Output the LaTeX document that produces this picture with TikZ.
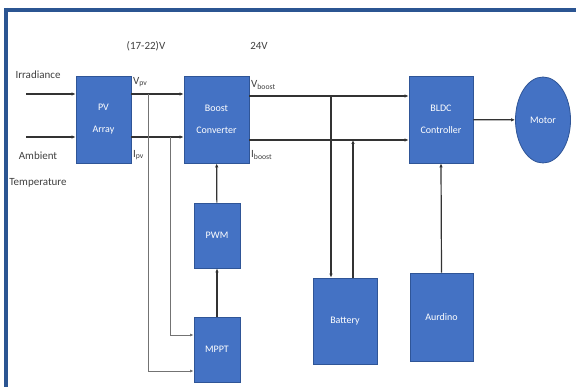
\documentclass[tikz,border=0pt]{standalone}
\usepackage{fontspec}
\setmainfont{Carlito}
\usetikzlibrary{shapes.geometric,arrows.meta}

\definecolor{framblue}{HTML}{2B5592}
\definecolor{boxblue}{HTML}{4472C4}
\definecolor{boxedge}{HTML}{2F5597}
\definecolor{wiregray}{HTML}{333333}

\tikzset{
    block/.style={draw=boxedge, fill=boxblue, thick, text=white, align=center,
        font=\fontsize{10}{22}\selectfont, inner sep=0pt},
    lbl/.style={text=black!75, align=center, font=\fontsize{11}{26}\selectfont, inner sep=0pt},
    wire/.style={wiregray, line width=1.2pt, -{Latex[length=4pt,width=3.5pt]}},
    tap/.style={black!55, line width=0.7pt, -{Latex[length=3.5pt,width=3pt]}}
}

\begin{document}
\begin{tikzpicture}[x=1pt, y=-1pt]
            \useasboundingbox (0,0) rectangle (576,387);
            \fill[white] (0,0) rectangle (576,387);
            \draw[framblue, line width=4pt] (4,10) -- (576,10);
            \draw[framblue, line width=4pt] (6,8) -- (6,387);

            \node[block, minimum width=55, minimum height=87] (pv) at (103.5,119.5) {PV\\Array};
            \node[block, minimum width=65, minimum height=87] (boost) at (216.5,119.5) {Boost\\Converter};
            \node[block, minimum width=64, minimum height=87] (bldc) at (441,119.5) {BLDC\\Controller};
            \node[block, ellipse, minimum width=55, minimum height=86] (motor) at (543,120) {Motor};
            \node[block, minimum width=46, minimum height=65] (pwm) at (217,235.5) {PWM};
            \node[block, minimum width=46, minimum height=65] (mppt) at (217,349.5) {MPPT};
            \node[block, minimum width=64, minimum height=86] (battery) at (345,321) {Battery};
            \node[block, minimum width=63, minimum height=88] (arduino) at (441.5,317) {Aurdino};

            \node[lbl] (irrtext) at (38,75) {Irradiance};
            \node[lbl] (ambtext) at (38,170) {Ambient\\Temperature};
            \node[lbl] (vpvrange) at (146,46) {(17-22)V};
            \node[lbl] (vboostval) at (259,46) {24V};
            \node[lbl, anchor=west] (vpvtext) at (133,82) {V\textsubscript{pv}};
            \node[lbl, anchor=west] (ipvtext) at (133,155) {I\textsubscript{pv}};
            \node[lbl, anchor=west] (vbtext) at (251,85) {V\textsubscript{boost}};
            \node[lbl, anchor=west] (ibtext) at (251,155) {I\textsubscript{boost}};

            \coordinate (irr) at (26,94);
            \coordinate (amb) at (26,137);
            \coordinate (vpv) at (pv.east |- irr);
            \coordinate (ipv) at (pv.east |- amb);
            \coordinate (vb) at (boost.east |- 0,96);
            \coordinate (ib) at (boost.east |- 0,140);
            \coordinate (vtap) at (148,94);
            \coordinate (itap) at (170,137);
            \coordinate (btapin) at (331,96);
            \coordinate (btapout) at (353,140);

            \draw[wire] (irr) -- (irr -| pv.west);
            \draw[wire] (amb) -- (amb -| pv.west);
            \draw[wire] (vpv) -- (vpv -| boost.west);
            \draw[wire] (ipv) -- (ipv -| boost.west);
            \draw[wire] (vb) -- (vb -| bldc.west);
            \draw[wire] (ib) -- (ib -| bldc.west);
            \draw[wire] (bldc) -- (motor);

            \draw[tap] (vtap) |- (mppt.west |- 0,371);
            \draw[tap] (itap) |- (mppt.west |- 0,335);

            \draw[wire] (mppt) -- (pwm);
            \draw[wire] (pwm) -- (boost);

            \draw[wire] (btapin) -- (btapin |- battery.north);
            \draw[wire] (btapout |- battery.north) -- (btapout);
            \draw[wire] (arduino.north) -- (bldc.south);
        \end{tikzpicture}
\end{document}
